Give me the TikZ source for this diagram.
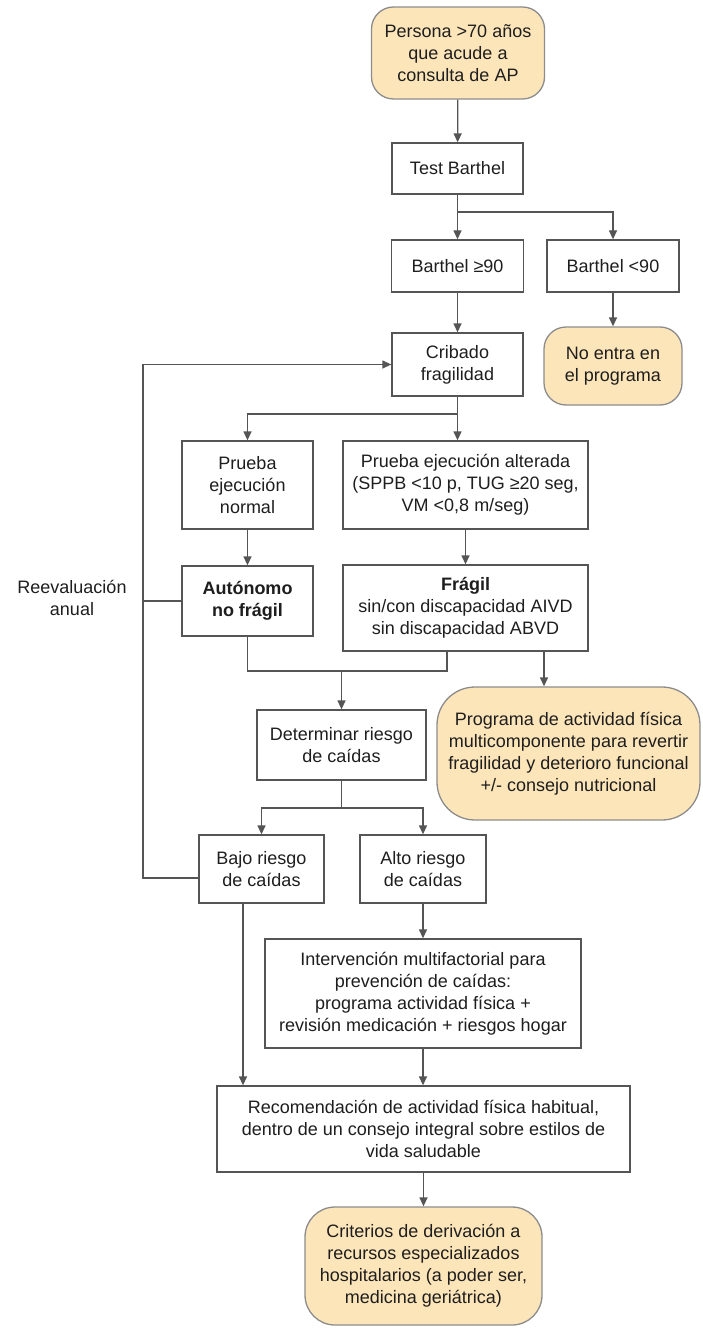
\documentclass[tikz,border=0pt]{standalone}
\usepackage{fontspec}
\setmainfont{Liberation Sans}
\usetikzlibrary{arrows.meta}

\definecolor{linegray}{RGB}{85,85,85}
\definecolor{textgray}{RGB}{30,30,30}
\definecolor{peach}{RGB}{253,229,186}
\definecolor{peachedge}{RGB}{140,140,140}

\tikzset{
  stepbox/.style={draw=linegray, line width=1.3pt, fill=white, align=center,
    inner sep=2pt, text=textgray},
  endbox/.style={draw=peachedge, line width=1.3pt, fill=peach, align=center,
    inner sep=2pt, text=textgray},
  link/.style={draw=linegray, line width=1.3pt},
  arr/.style={link, -{Triangle[length=9pt,width=8pt]}},
}

\begin{document}
\begin{tikzpicture}[x=1pt, y=-1pt, font=\fontsize{18}{22}\selectfont]
\useasboundingbox (0,0) rectangle (702,1329);

% --- boxes ---
\node[endbox, rounded corners=22pt, minimum width=173pt, minimum height=92pt]
  (start) at (458,53) {Persona >70 años\\que acude a\\consulta de AP};
\node[stepbox, minimum width=131pt, minimum height=51pt]
  (test) at (457.5,168.5) {Test Barthel};
\node[stepbox, minimum width=132pt, minimum height=52pt]
  (b90) at (457.5,266) {Barthel ≥90};
\node[stepbox, minimum width=132pt, minimum height=52pt]
  (bl90) at (613,266) {Barthel <90};
\node[stepbox, minimum width=131pt, minimum height=63pt]
  (crib) at (457.5,364.5) {Cribado\\fragilidad};
\node[endbox, rounded corners=22pt, minimum width=138pt, minimum height=78pt]
  (noentra) at (613,366) {No entra en\\el programa};
\node[stepbox, minimum width=131pt, minimum height=88pt]
  (pnorm) at (247.5,485) {Prueba\\ejecución\\normal};
\node[stepbox, minimum width=245pt, minimum height=88pt]
  (palt) at (465.5,485) {Prueba ejecución alterada\\(SPPB <10 p, TUG ≥20 seg,\\VM <0,8 m/seg)};
\node[stepbox, minimum width=131pt, minimum height=70pt]
  (auto) at (247.5,601) {\textbf{Autónomo}\\\textbf{no frágil}};
\node[stepbox, minimum width=245pt, minimum height=86pt]
  (fragil) at (465.5,608) {\textbf{Frágil}\\sin/con discapacidad AIVD\\sin discapacidad ABVD};
\node[endbox, rounded corners=38pt, minimum width=263pt, minimum height=133pt]
  (prog) at (568.5,753.5) {Programa de actividad física\\multicomponente para revertir\\fragilidad y deterioro funcional\\+/- consejo nutricional};
\node[stepbox, minimum width=169pt, minimum height=70pt]
  (det) at (341.5,745) {Determinar riesgo\\de caídas};
\node[stepbox, minimum width=125pt, minimum height=68pt]
  (bajo) at (261.5,869) {Bajo riesgo\\de caídas};
\node[stepbox, minimum width=126pt, minimum height=68pt]
  (alto) at (423,869) {Alto riesgo\\de caídas};
\node[stepbox, minimum width=316pt, minimum height=109pt]
  (interv) at (423,993.5) {Intervención multifactorial para\\prevención de caídas:\\programa actividad física +\\revisión medicación + riesgos hogar};
\node[stepbox, minimum width=413pt, minimum height=86pt]
  (recom) at (423.5,1129) {Recomendación de actividad física habitual,\\dentro de un consejo integral sobre estilos de\\vida saludable};
\node[endbox, rounded corners=30pt, minimum width=237pt, minimum height=118pt]
  (crit) at (423.5,1266) {Criterios de derivación a\\recursos especializados\\hospitalarios (a poder ser,\\medicina geriátrica)};

\node[align=center, text=textgray] (reeval) at (72,598) {Reevaluación\\anual};

% --- junction points ---
\coordinate (j1) at (457.5,212);
\coordinate (j2) at (457.5,414);
\coordinate (j3) at (447,671);
\coordinate (fb) at (447,651);
\coordinate (fp) at (544,651);
\coordinate (j4) at (341.5,808);
\coordinate (bb) at (243,903);
\coordinate (loopx) at (143,878);

% --- connectors ---
\draw[arr] (start) -- (test);
\draw[arr] (test) -- (b90);
\draw[arr] (j1) -| (bl90.north);
\draw[arr] (b90) -- (crib);
\draw[arr] (bl90) -- (noentra);

\draw[arr] (crib.south) -- (crib.south |- palt.north);
\draw[arr] (j2) -| (pnorm.north);
\draw[arr] (pnorm) -- (auto);
\draw[arr] (palt) -- (fragil);

\draw[link] (auto.south) |- (j3) -- (fb);
\draw[arr] (j3 -| det.north) -- (det.north);
\draw[arr] (fp) -- (fp |- prog.north);

\draw[arr] (det.south) -- (j4) -| (bajo.north);
\draw[arr] (j4) -| (alto.north);

% yearly re-evaluation loop back to the screening
\draw[arr] (loopx -| bajo.west) -- (loopx) |- (crib.west);
\draw[link] (auto.west) -- (auto.west -| loopx);

\draw[arr] (alto) -- (interv);
\draw[arr] (bb) -- (bb |- recom.north);
\draw[arr] (interv.south) -- (interv.south |- recom.north);
\draw[arr] (recom.south) -- (recom.south |- crit.north);
\end{tikzpicture}
\end{document}
